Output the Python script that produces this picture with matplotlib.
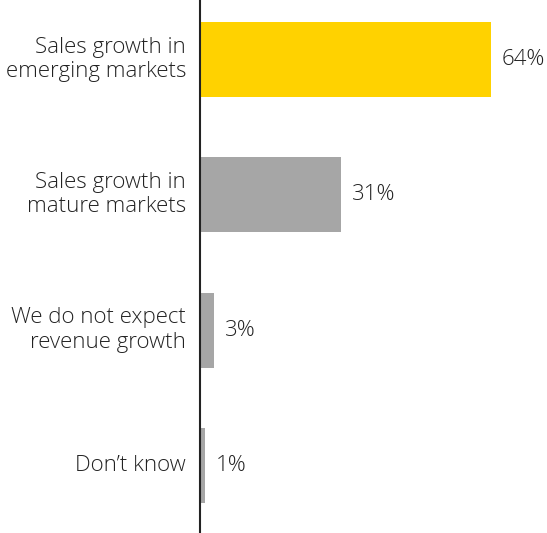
import matplotlib.pyplot as plt

categories = ['Sales growth in\nemerging markets', 'Sales growth in\nmature markets',
              'We do not expect\nrevenue growth', "Don\u2019t know"]
values = [64, 31, 3, 1]
colors = ['#FFD200', '#A6A6A6', '#A6A6A6', '#A6A6A6']

plt.rcParams['font.family'] = ['Open Sans', 'DejaVu Sans']

fig = plt.figure(figsize=(5.47, 5.33), dpi=100)
ax = fig.add_axes([200 / 547, 0, 347 / 547, 1])

pos = list(range(len(categories)))
ax.barh(pos, values, height=0.555, color=colors)
ax.set_xlim(0, 76.3)
ax.set_ylim(3.5, -0.44)

for p, v in zip(pos, values):
    ax.annotate(f'{v}%', xy=(v, p), xytext=(11, 0), textcoords='offset pixels',
                va='center', ha='left', fontsize=16, color='#222222',
                weight='light', annotation_clip=False)
    ax.annotate(categories[p], xy=(0, p), xytext=(-14, 0), textcoords='offset pixels',
                va='center', ha='right', fontsize=16, color='#222222',
                weight='light', linespacing=1.2, annotation_clip=False)

for s in ['top', 'right', 'bottom']:
    ax.spines[s].set_visible(False)
ax.spines['left'].set_color('#222222')
ax.spines['left'].set_linewidth(1.5)
ax.set_xticks([])
ax.set_yticks([])

plt.savefig('out.png')
